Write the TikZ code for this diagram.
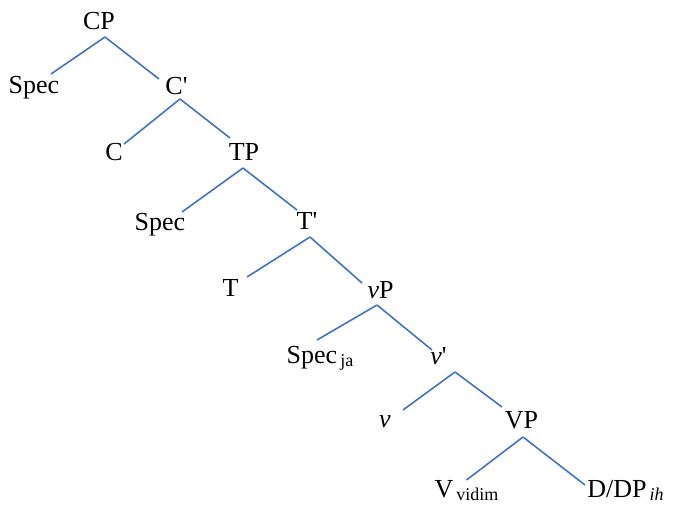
\documentclass[tikz,border=0pt]{standalone}
\usepackage{fontspec}
\setmainfont{Liberation Serif}
\definecolor{treeblue}{RGB}{68,114,196}
\newcommand{\treesub}[1]{\hspace{3pt}\raisebox{-3pt}{\fontsize{18}{18}\selectfont #1}}
\begin{document}
\begin{tikzpicture}[x=1pt,y=-1pt,
  lbl/.style={anchor=base,inner sep=0pt,font=\fontsize{26}{30}\selectfont},
  edge/.style={draw=treeblue,line width=1.6pt}]
\useasboundingbox (0,0) rectangle (673,506);
\node[lbl] (CP)    at (99,30)    {CP};
\node[lbl] (SpecA) at (34,93)    {Spec};
\node[lbl] (Cbar)  at (176.5,94) {C\textquotesingle};
\node[lbl] (C)     at (114,160)  {C};
\node[lbl] (TP)    at (244,160)  {TP};
\node[lbl] (SpecB) at (160,230)  {Spec};
\node[lbl] (Tbar)  at (307,229)  {T\textquotesingle};
\node[lbl] (T)     at (230.5,296){T};
\node[lbl] (vP)    at (380.5,298){\textit{v}P};
\node[lbl] (SpecC) at (320,363)  {Spec\treesub{ja}};
\node[lbl] (vbar)  at (438.5,364){\textit{v}\textquotesingle};
\node[lbl] (v)     at (385,427)  {\textit{v}};
\node[lbl] (VP)    at (521.5,428){VP};
\node[lbl] (V)     at (466.5,497){V\treesub{vidim}};
\node[lbl] (DP)    at (625.5,497){D/DP\treesub{\textit{ih}}};

\draw[edge] ([shift={(6,7)}]CP.base) -- ([shift={(17,-19)}]SpecA.base);
\draw[edge] ([shift={(6,7)}]CP.base) -- ([shift={(-17.5,-15)}]Cbar.base);
\draw[edge] ([shift={(3.5,5)}]Cbar.base) -- ([shift={(10,-16)}]C.base);
\draw[edge] ([shift={(3.5,5)}]Cbar.base) -- ([shift={(-14,-22)}]TP.base);
\draw[edge] ([shift={(-1,8)}]TP.base) -- ([shift={(22,-18)}]SpecB.base);
\draw[edge] ([shift={(-1,8)}]TP.base) -- ([shift={(-10,-19)}]Tbar.base);
\draw[edge] ([shift={(3,8)}]Tbar.base) -- ([shift={(16.5,-19)}]T.base);
\draw[edge] ([shift={(3,8)}]Tbar.base) -- ([shift={(-18.5,-15)}]vP.base);
\draw[edge] ([shift={(-3.5,7)}]vP.base) -- ([shift={(-3,-23)}]SpecC.base);
\draw[edge] ([shift={(-3.5,7)}]vP.base) -- ([shift={(-6.5,-14)}]vbar.base);
\draw[edge] ([shift={(16.5,8)}]vbar.base) -- ([shift={(18,-17)}]v.base);
\draw[edge] ([shift={(16.5,8)}]vbar.base) -- ([shift={(-19.5,-21)}]VP.base);
\draw[edge] ([shift={(1.5,9)}]VP.base) -- ([shift={(0,-17)}]V.base);
\draw[edge] ([shift={(1.5,9)}]VP.base) -- ([shift={(-40.5,-12)}]DP.base);
\end{tikzpicture}
\end{document}
